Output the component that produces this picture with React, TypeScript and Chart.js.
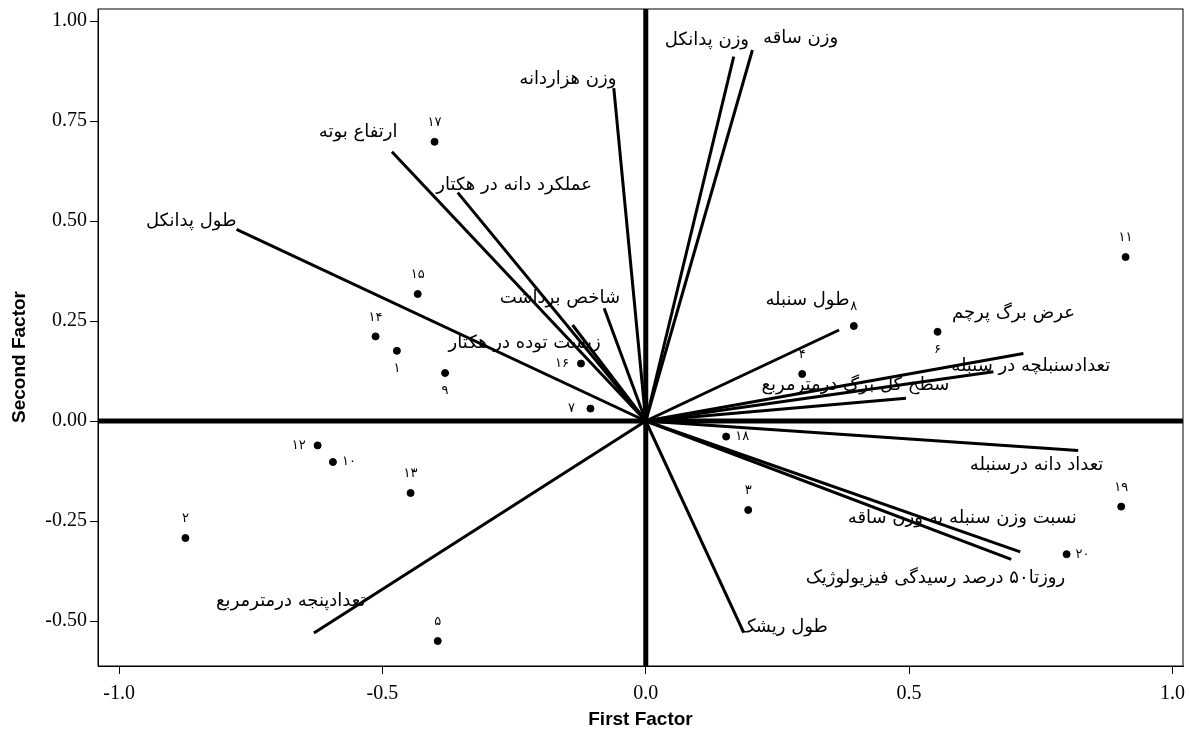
import React, { useEffect, useRef } from "react";
import { Chart, registerables } from "chart.js";

Chart.register(...registerables);

// Observation (genotype) scores
const pointIds = ["۱", "۲", "۳", "۴", "۵", "۶", "۷", "۸", "۹", "۱۰", "۱۱", "۱۲", "۱۳", "۱۴", "۱۵", "۱۶", "۱۷", "۱۸", "۱۹", "۲۰"];
const pointX = [-0.4725, -0.874, 0.1945, 0.297, -0.395, 0.554, -0.105, 0.395, -0.381, -0.594, 0.911, -0.623, -0.4465, -0.513, -0.433, -0.123, -0.401, 0.1526, 0.9027, 0.799];
const pointY = [0.1755, -0.2925, -0.2225, 0.1175, -0.55, 0.223, 0.031, 0.2375, 0.12, -0.1025, 0.41, -0.061, -0.18, 0.2115, 0.3175, 0.1437, 0.698, -0.039, -0.214, -0.333];
const pointLabelSide = ["below", "above", "above", "above", "above", "below", "left", "above", "below", "right", "above", "left", "above", "above", "above", "left", "above", "right", "above", "right"];

// Trait loadings (vectors)
const traitNames = [
  "ارتفاع بوته",
  "عملکرد دانه در هکتار",
  "طول پدانکل",
  "وزن هزاردانه",
  "شاخص برداشت",
  "زیست توده در هکتار",
  "وزن پدانکل",
  "وزن ساقه",
  "طول سنبله",
  "تعدادسنبلچه در سنبله",
  "سطح کل برگ درمترمربع",
  "عرض برگ پرچم",
  "تعداد دانه درسنبله",
  "نسبت وزن سنبله به وزن ساقه",
  "روزتا۵۰ درصد رسیدگی فیزیولوژیک",
  "طول ریشک",
  "تعدادپنجه درمترمربع",
];
const traitX = [-0.482, -0.357, -0.777, -0.0607, -0.079, -0.139, 0.167, 0.2025, 0.367, 0.717, 0.66, 0.494, 0.821, 0.711, 0.694, 0.186, -0.63];
const traitY = [0.673, 0.571, 0.479, 0.832, 0.282, 0.24, 0.911, 0.9275, 0.2275, 0.169, 0.123, 0.057, -0.074, -0.327, -0.346, -0.529, -0.53];
// where each trait name is written (data coordinates of text centre)
const traitLabelX = [-0.546, -0.25, -0.863, -0.148, -0.163, -0.23, 0.116, 0.294, 0.307, 0.731, 0.398, 0.698, 0.742, 0.601, 0.55, 0.262, -0.674];
const traitLabelY = [0.7225, 0.59, 0.5, 0.853, 0.3075, 0.195, 0.9525, 0.9575, 0.3025, 0.1375, 0.09, 0.27, -0.11, -0.2425, -0.3925, -0.515, -0.45];

const xTicks = [-1.0, -0.5, 0.0, 0.5, 1.0];
const yTicks = [-0.5, -0.25, 0.0, 0.25, 0.5, 0.75, 1.0];
const xMin = -1.04, xMax = 1.02, yMin = -0.6125, yMax = 1.03;

const labelPlugin = {
  id: "biplotLabels",
  afterDatasetsDraw(chart: any) {
    const { ctx, chartArea, scales } = chart;
    const xs = scales.x, ys = scales.y;
    ctx.save();
    ctx.strokeStyle = "#000";
    ctx.lineWidth = 1;
    ctx.strokeRect(chartArea.left, chartArea.top, chartArea.right - chartArea.left, chartArea.bottom - chartArea.top);
    ctx.fillStyle = "#000";
    ctx.textAlign = "center";
    ctx.textBaseline = "middle";
    ctx.font = "18px 'DejaVu Sans'";
    traitNames.forEach((t, i) => {
      ctx.fillText(t, xs.getPixelForValue(traitLabelX[i]), ys.getPixelForValue(traitLabelY[i]));
    });
    ctx.font = "13px 'DejaVu Sans'";
    pointIds.forEach((t, i) => {
      let px = xs.getPixelForValue(pointX[i]);
      let py = ys.getPixelForValue(pointY[i]);
      const side = pointLabelSide[i];
      if (side === "above") py -= 19;
      else if (side === "below") py += 18;
      else if (side === "left") px -= 19;
      else px += 16;
      ctx.fillText(t, px, py);
    });
    // y axis title
    ctx.save();
    ctx.translate(20, ys.getPixelForValue(0.16));
    ctx.rotate(-Math.PI / 2);
    ctx.font = "bold 19px 'Liberation Sans'";
    ctx.fillText("Second Factor", 0, 0);
    ctx.restore();
    ctx.restore();
  },
};

export default function App() {
  const ref = useRef<HTMLCanvasElement | null>(null);
  useEffect(() => {
    document.body.style.margin = "0";
    const vectorSets = traitNames.map((n, i) => ({
      label: n,
      data: [{ x: 0, y: 0 }, { x: traitX[i], y: traitY[i] }],
      showLine: true,
      borderColor: "#000",
      borderWidth: 3,
      pointRadius: 0,
    }));
    const chart = new Chart(ref.current as HTMLCanvasElement, {
      type: "scatter",
      data: {
        datasets: [
          { label: "h", data: [{ x: xMin, y: 0 }, { x: xMax, y: 0 }], showLine: true, borderColor: "#000", borderWidth: 5, pointRadius: 0 },
          { label: "v", data: [{ x: 0, y: yMin }, { x: 0, y: yMax }], showLine: true, borderColor: "#000", borderWidth: 5, pointRadius: 0 },
          ...vectorSets,
          {
            label: "pts",
            data: pointX.map((x, i) => ({ x, y: pointY[i] })),
            backgroundColor: "#000",
            borderColor: "#000",
            pointRadius: 3.5,
            showLine: false,
          },
        ],
      } as any,
      options: {
        responsive: false,
        animation: false,
        devicePixelRatio: 1,
        layout: { padding: { top: 9, right: 8, left: 0, bottom: 0 } },
        plugins: { legend: { display: false }, tooltip: { enabled: false } },
        scales: {
          x: {
            type: "linear",
            min: xMin,
            max: xMax,
            afterBuildTicks: (s: any) => { s.ticks = xTicks.map((v) => ({ value: v })); },
            afterFit: (s: any) => { s.height = 68; s.paddingLeft = 0; s.paddingRight = 0; },
            ticks: { color: "#000", padding: 8, font: { family: "'Liberation Serif'", size: 20 }, callback: (v: any) => Number(v).toFixed(1) },
            grid: { drawOnChartArea: false, color: "#000", tickLength: 8 },
            border: { color: "#000", width: 1 },
            title: { display: true, text: "First Factor", color: "#000", font: { family: "'Liberation Sans'", size: 19, weight: "bold" }, padding: { top: 0, bottom: 3 } },
          },
          y: {
            type: "linear",
            min: yMin,
            max: yMax,
            afterBuildTicks: (s: any) => { s.ticks = yTicks.map((v) => ({ value: v })); },
            afterFit: (s: any) => { s.width = 98; s.paddingTop = 0; s.paddingBottom = 0; },
            ticks: { color: "#000", padding: 3, font: { family: "'Liberation Serif'", size: 20 }, callback: (v: any) => Number(v).toFixed(2) },
            grid: { drawOnChartArea: false, color: "#000", tickLength: 8 },
            border: { color: "#000", width: 1 },
            title: { display: false },
          },
        },
      } as any,
      plugins: [labelPlugin],
    });
    return () => chart.destroy();
  }, []);
  return (
    <div style={{ width: 1191, height: 734 }}>
      <canvas ref={ref} width={1191} height={734} />
    </div>
  );
}
